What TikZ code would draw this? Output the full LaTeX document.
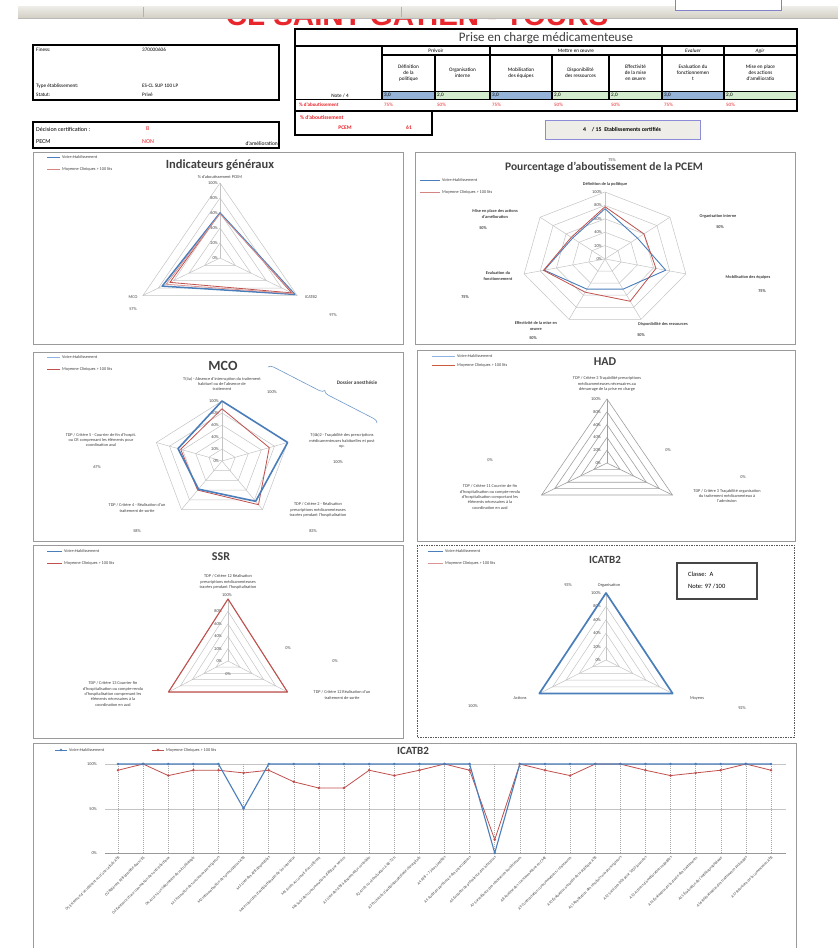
\documentclass[tikz,border=0pt]{standalone}
\usepackage{fontspec}
\setmainfont{Carlito}
\newfontfamily\headfont{Liberation Sans}
\usetikzlibrary{decorations.pathreplacing}

\definecolor{serblue}{HTML}{4A7EBB}
\definecolor{legblue}{HTML}{8DB3E2}
\definecolor{serred}{HTML}{C0504D}
\definecolor{paleblue}{HTML}{95B3D7}
\definecolor{palegreen}{HTML}{D3ECCD}
\definecolor{gridgray}{HTML}{C4C4C4}
\definecolor{framegray}{HTML}{9A9A9A}
\definecolor{txtgray}{HTML}{404040}
\definecolor{titlered}{HTML}{E8262B}
\definecolor{barlight}{HTML}{EEEDE8}
\definecolor{bardark}{HTML}{D2CFC4}

% radar grid: cx, cy, rx, ry, number of axes, style
\newcommand{\rdgrid}[6]{%
  \pgfmathtruncatemacro\rdlast{#5-1}%
  \foreach \L in {0.2,0.4,0.6,0.8,1}{%
    \draw[#6] ({#1},{#2-#4*\L}) \foreach \k in {1,...,\rdlast}{ -- ({#1+#3*\L*cos(90-360*\k/#5)},{#2-#4*\L*sin(90-360*\k/#5)})} -- cycle;
  }%
  \foreach \k in {0,...,\rdlast}{\draw[#6] ({#1},{#2}) -- ({#1+#3*cos(90-360*\k/#5)},{#2-#4*sin(90-360*\k/#5)});}%
}
% radar series: [style] cx, cy, rx, ry, number of axes, values
\newcommand{\rdseries}[7][]{%
  \pgfmathtruncatemacro\rdlast{#6-1}%
  \foreach \v [count=\k from 0] in {#7}{\coordinate (rdp\k) at ({#2+#4*\v*cos(90-360*\k/#6)},{#3-#5*\v*sin(90-360*\k/#6)});}%
  \draw[#1] (rdp0) \foreach \k in {1,...,\rdlast}{ -- (rdp\k)} -- cycle;
}
% radar scale labels: [levels] x, cy, ry
\newcommand{\rdlevels}[4][100/1,80/0.8,60/0.6,40/0.4,20/0.2,0/0]{%
  \foreach \p/\L in {#1}{\node[tiny,anchor=east] at ({#2},{#3-#4*\L}) {\p\%};}%
}

\begin{document}
\begin{tikzpicture}[x=1pt,y=-1pt,
  fsz/.style 2 args={font=\fontsize{#1}{#2}\selectfont},
  tiny/.style={fsz={4.3}{5.4}, text=txtgray, inner sep=0, align=center},
  tinyb/.style={tiny, font=\fontsize{4.3}{5.4}\selectfont\bfseries},
  axlab/.style={fsz={3.9}{4.5}, text=txtgray, inner sep=0},
  legtxt/.style={fsz={4.3}{5}, text=txtgray, inner sep=0, anchor=west},
  cell/.style={fsz={5.2}{6.2}, text=black, inner sep=0, align=center},
  charttitle/.style={font=\bfseries\fontsize{#1}{#1}\selectfont, text=txtgray, inner sep=0},
  panel/.style={draw=framegray, line width=0.8pt},
  gridl/.style={draw=gridgray, line width=0.5pt},
  hadgrid/.style={draw=gray!75, line width=0.6pt},
  blueser/.style={draw=serblue, line width=1.5pt, line join=round},
  redser/.style={draw=serred, line width=0.8pt, line join=round},
  thickrule/.style={line width=1.7pt},
  medrule/.style={line width=1.2pt},
  redtxt/.style={text=titlered, inner sep=0}]

\useasboundingbox (0,0) rectangle (838,948);
\fill[white] (0,0) rectangle (838,948);

% ---------- page title under the toolbar ----------
\node[anchor=base, text=titlered, font=\headfont\bfseries\fontsize{29.5}{29.5}\selectfont, inner sep=0] (pagetitle) at (417,25.5) {CL SAINT GATIEN - TOURS};
\fill[white] (0,0) rectangle (838,6);
\fill[top color=barlight, bottom color=bardark] (18,6) rectangle (838,18);
\draw[gray!55] (18,18) -- (838,18);
\draw[gray!60] (143,7) -- (143,17) (401,7) -- (401,17);
\draw[fill=white, draw=gray!60!blue!70] (675,-1) rectangle (781,10);

% ---------- identity boxes ----------
\draw[line width=1.5pt] (33,45) rectangle (279,100);
\node[cell, anchor=west] (finess) at (36,50) {Finess:};
\node[cell, anchor=west] (finessv) at (142,50) {370000606};
\node[cell, anchor=west] (typeet) at (36,86) {Type établissement:};
\node[cell, anchor=west] (typeetv) at (142,86) {ES-CL SUP 100 LP};
\node[cell, anchor=west] (statut) at (36,95) {Statut:};
\node[cell, anchor=west] (statutv) at (142,95) {Privé};

\draw[line width=1.5pt] (33,122) rectangle (279,148);
\node[cell, anchor=west, fsz={6}{7}] (decis) at (36,129) {Décision certification :};
\node[redtxt, anchor=west, fsz={6}{7}] (decisv) at (146,129) {B};
\node[cell, anchor=west, fsz={6}{7}] (pecm) at (36,142) {PECM};
\node[redtxt, anchor=west, fsz={6}{7}] (pecmv) at (142,142) {NON};
\node[cell, anchor=east, fsz={5.5}{6.5}] (amel) at (278,144) {d'amélioration};

% ---------- PECM score table ----------
\foreach \xa/\xb/\cc/\n/\p in {382/435/paleblue/3/75, 435/490/palegreen/2/50, 490/552/paleblue/3/75, 552/609/palegreen/2/50, 609/662/palegreen/2/50, 662/724/paleblue/3/75, 724/797/palegreen/2/50}{
  \fill[\cc] (\xa+0.6,91.6) rectangle (\xb-0.6,98.6);
  \node[cell, anchor=west] at (\xa+2,95.2) {\n,0};
  \node[redtxt, anchor=west, fsz={5}{6}] at (\xa+2,104.8) {\p\%};
}
\draw[thickrule] (295,29) rectangle (797,111);
\draw[thickrule] (295,46) -- (797,46);
\draw[medrule] (382,55) -- (797,55);
\draw[medrule] (382,46) -- (382,99) (490,46) -- (490,99) (662,46) -- (662,99) (724,46) -- (724,99);
\draw[medrule] (435,55) -- (435,99) (552,55) -- (552,99) (609,55) -- (609,99);
\draw[line width=0.9pt] (382,91) -- (797,91);
\draw[line width=0.9pt] (295,99.3) -- (797,99.3);
\node[fsz={13}{13}, text=txtgray, inner sep=0] (tabtitle) at (546,38) {Prise en charge médicamenteuse};
\node[cell] (gprev) at (436,51) {Prévoir};
\node[cell] (gmet) at (576,51) {Mettre en œuvre};
\node[cell] (geval) at (693,51) {\itshape Evaluer};
\node[cell] (gagir) at (760,51) {\itshape Agir};
\node[cell] (h1) at (408.5,73) {Définition\\de la\\politique};
\node[cell] (h2) at (462.5,73) {Organisation\\interne};
\node[cell] (h3) at (521,73) {Mobilisation\\des équipes};
\node[cell] (h4) at (580.5,73) {Disponibilité\\des ressources};
\node[cell] (h5) at (635.5,73) {Effectivité\\de la mise\\en œuvre};
\node[cell] (h6) at (693,73) {Evaluation du\\fonctionnemen\\t};
\node[cell] (h7) at (760.5,73) {Mise en place\\des actions\\d'amélioratio};
\node[cell] (note) at (340,95.5) {Note / 4};
\node[redtxt, anchor=west, fsz={5}{6}] (pctlab) at (299,104.8) {\bfseries\% d'aboutissement};

\draw[thickrule] (295,111) rectangle (432,135);
\node[redtxt, anchor=west, fsz={5.5}{6.5}] (pcemlab) at (300,117.5) {\bfseries\% d'aboutissement};
\node[redtxt, fsz={5.5}{6.5}] (pcemlab2) at (345,128) {\bfseries PCEM};
\node[redtxt, fsz={5.5}{6.5}] (pcemval) at (409,128) {\bfseries 61};

\draw[fill=barlight, draw=gray!50!blue!60, line width=0.9pt] (545,120) rectangle (700,139);
\node[cell, fsz={5.8}{6.8}] (certif) at (622,129.5) {\bfseries 4\quad/ 15\enspace Etablissements certifiés};

% ---------- panel A: indicateurs generaux ----------
\draw[panel] (33,152) rectangle (403,344);
\draw[serblue, line width=0.7pt] (47,157) -- (60,157);
\node[legtxt] (la1) at (62,157) {Votre établissement};
\draw[serred!70, line width=0.7pt] (47,169) -- (60,169);
\node[legtxt] (la2) at (62,169) {Moyenne Cliniques > 100 lits};
\rdgrid{220}{258}{89}{75}{3}{gridl}
\rdlevels{218}{258}{75}
\rdseries[redser]{220}{258}{89}{75}{3}{0.6,0.93,0.65}
\rdseries[blueser]{220}{258}{89}{75}{3}{0.6,0.97,0.75}
\rdseries[redser, draw=serred!60]{220}{258}{89}{75}{3}{0.59,0.95,0.7}
\node[charttitle=12.5] (ta) at (220,165) {Indicateurs généraux};
\node[tiny] (aax1) at (220,177) {\% d'aboutissement PCEM};
\node[tiny] (aax2) at (311,297) {ICATB2};
\node[tiny] (aax3) at (133,297) {MCO};
\node[tiny] (aval2) at (333,315) {97\%};
\node[tiny] (aval3) at (133,309) {57\%};

% ---------- panel B: PCEM ----------
\draw[panel] (415,152) rectangle (795,344);
\node[tiny] (bv0) at (612,160) {75\%};
\node[charttitle=11.5] (tb) at (604,167) {Pourcentage d'aboutissement de la PCEM};
\draw[serblue, line width=0.7pt] (420,180) -- (440,180);
\node[legtxt] (lb1) at (442,180) {Votre établissement};
\draw[serred!70, line width=0.7pt] (420,192) -- (440,192);
\node[legtxt] (lb2) at (442,192) {Moyenne Cliniques > 100 lits};
\rdgrid{605}{259}{83}{67}{7}{gridl}
\rdlevels{602}{259}{67}
\rdseries[blueser, line width=0.9pt]{605}{259}{83}{67}{7}{0.75,0.5,0.75,0.5,0.5,0.75,0.5}
\rdseries[redser]{605}{259}{83}{67}{7}{0.78,0.6,0.63,0.7,0.55,0.76,0.52}
\node[tinyb] (bax0) at (605,184) {Définition de la politique};
\node[tinyb] (bax1) at (718,216) {Organisation interne};
\node[tinyb] (bv1) at (720,227) {50\%};
\node[tinyb] (bax2) at (748,277) {Mobilisation des équipes};
\node[tinyb] (bv2) at (762,291) {75\%};
\node[tinyb] (bax3) at (663,324) {Disponibilité des ressources};
\node[tinyb] (bv3) at (641,335) {50\%};
\node[tinyb] (bax4) at (536,326) {Effectivité de la mise en\\œuvre};
\node[tinyb] (bv4) at (533,338) {50\%};
\node[tinyb] (bax5) at (498,276) {Evaluation du\\fonctionnement};
\node[tinyb] (bv5) at (465,297) {75\%};
\node[tinyb] (bax6) at (495,214) {Mise en place des actions\\d'amélioration};
\node[tinyb] (bv6) at (483,228) {50\%};

% ---------- panel C: MCO ----------
\draw[panel] (33,352) rectangle (403,541);
\draw[legblue, line width=0.7pt] (47,357) -- (60,357);
\node[legtxt] (lc1) at (62,357) {Votre établissement};
\draw[serred, line width=0.7pt] (47,369) -- (60,369);
\node[legtxt] (lc2) at (62,369) {Moyenne Cliniques > 100 lits};
\node[charttitle=14] (tc) at (223,366) {MCO};
\coordinate (brA) at (268,367);
\coordinate (brB) at (377,423);
\draw[draw=serblue!80, line width=0.6pt, decorate, decoration={brace, amplitude=5pt}] (brA) -- (brB);
\node[text=txtgray, inner sep=0, font=\bfseries\fontsize{5.2}{6}\selectfont] (dossier) at (357,383) {Dossier anesthésie};
\rdgrid{222}{461}{69}{60}{5}{gridl}
\rdlevels{219}{461}{60}
\rdseries[redser]{222}{461}{69}{60}{5}{0.87,0.72,0.9,0.6,0.63}
\rdseries[blueser, line width=1.6pt]{222}{461}{69}{60}{5}{1,1,0.83,0.58,0.67}
\node[tiny] (cax0) at (222,384) {T(4a) - Absence d'interruption du traitement\\habituel ou de l'absence de\\traitement};
\node[tiny] (cv0) at (272,392) {100\%};
\node[tiny] (cax1) at (342,441) {T(4b)2 - Traçabilité des prescriptions\\médicamenteuses habituelles et post\\op.};
\node[tiny] (cv1) at (338,462) {100\%};
\node[tiny] (cax2) at (318,510) {TDP / Critère 2 - Réalisation\\prescriptions médicamenteuses\\tracées pendant l'hospitalisation};
\node[tiny] (cv2) at (313,531) {83\%};
\node[tiny] (cax3) at (137,508) {TDP / Critère 4 - Réalisation d'un\\traitement de sortie};
\node[tiny] (cv3) at (137,531) {58\%};
\node[tiny] (cax4) at (101,440) {TDP / Critère 5 - Courrier de fin d'hospit.\\ou CR comprenant les éléments pour\\coordination aval};
\node[tiny] (cv4) at (97,467) {67\%};

% ---------- panel D: HAD ----------
\draw[panel] (417,350) rectangle (795,541);
\draw[legblue, line width=0.7pt] (432,356) -- (455,356);
\node[legtxt] (ld1) at (457,356) {Votre établissement};
\draw[serred!80!orange, line width=0.7pt] (432,365) -- (455,365);
\node[legtxt] (ld2) at (457,365) {Moyenne Cliniques > 100 lits};
\node[charttitle=12] (td) at (605,362) {HAD};
\rdgrid{607}{463}{75.6}{64}{3}{hadgrid}
\rdlevels{601}{463}{64}
\node[tiny] (dax0) at (607,384) {TDP / Critère 3 Traçabilité prescriptions\\médicamenteuses nécessaires au\\démarrage de la prise en charge};
\node[tiny] (dax1) at (727,496) {TDP / Critère 3 Traçabilité organisation\\du traitement médicamenteux à\\l'admission};
\node[tiny] (dax2) at (490,497) {TDP / Critère 11 Courrier de fin\\d'hospitalisation ou compte-rendu\\d'hospitalisation comportant les\\éléments nécessaires à la\\coordination en aval};
\node[tiny] (dv0) at (668,450) {0\%};
\node[tiny] (dv1) at (743,477) {0\%};
\node[tiny] (dv2) at (490,460) {0\%};

% ---------- panel E: SSR ----------
\draw[panel] (33,545) rectangle (403,738);
\draw[serblue, line width=0.7pt] (47,551) -- (62,551);
\node[legtxt] (le1) at (64,551) {Votre établissement};
\draw[serred, line width=0.9pt] (47,563) -- (62,563);
\node[legtxt] (le2) at (64,563) {Moyenne Cliniques > 100 lits};
\node[charttitle=12] (te) at (221,557) {SSR};
\rdgrid{228}{661}{68.7}{62}{3}{gridl}
\rdlevels[80/0.8,60/0.6,40/0.4,20/0.2,0/0]{222}{661}{62}
\rdseries[redser, line width=1.1pt]{228}{661}{68.7}{62}{3}{1,1,1}
\node[tiny] (eax0) at (228,582) {TDP / Critère 12 Réalisation\\prescriptions médicamenteuses\\tracées pendant l'hospitalisation};
\node[tiny] (ev0) at (227,595) {100\%};
\node[tiny] (eax1) at (342,695) {TDP / Critère 12 Réalisation d'un\\traitement de sortie};
\node[tiny] (eax2) at (113,694) {TDP / Critère 13 Courrier fin\\d'hospitalisation ou compte-rendu\\d'hospitalisation comprenant les\\éléments nécessaires à la\\coordination en aval};
\node[tiny] (ev1) at (288,648) {0\%};
\node[tiny] (ev2) at (335,661) {0\%};
\node[tiny] (ev3) at (228,674) {0\%};

% ---------- panel F: ICATB2 radar ----------
\draw[draw=gray!70!black, line width=0.9pt, dash pattern=on 1.5pt off 1pt] (417,545) rectangle (794,737);
\draw[serblue, line width=0.7pt] (428,551) -- (443,551);
\node[legtxt] (lf1) at (445,551) {Votre établissement};
\draw[serred!60, line width=0.7pt] (428,563) -- (443,563);
\node[legtxt] (lf2) at (445,563) {Moyenne Cliniques > 100 lits};
\node[charttitle=11] (tf) at (605,560) {ICATB2};
\draw[draw=gray!55!black, line width=1.4pt] (677,563) rectangle (757,599);
\node[cell, anchor=west, fsz={6.5}{7.5}] (classe) at (688,574) {Classe:\enspace A};
\node[cell, anchor=west, fsz={6.5}{7.5}] (notef) at (688,586) {Note: 97 /100};
\rdgrid{606}{660}{77}{67}{3}{gridl}
\rdlevels{601}{660}{67}
\rdseries[blueser, line width=1.7pt]{606}{660}{77}{67}{3}{1,1,1}
\node[tiny] (fax0) at (609,585) {Organisation};
\node[tiny] (fv0) at (568,585) {93\%};
\node[tiny] (fax1) at (697,698) {Moyens};
\node[tiny] (fv1) at (742,708) {92\%};
\node[tiny] (fax2) at (520,698) {Actions};
\node[tiny] (fv2) at (473,706) {100\%};

% ---------- panel G: ICATB2 criteria ----------
\draw[panel] (33,743) rectangle (796,960);
\node[charttitle=11] (tg) at (413,751) {ICATB2};
\draw[serblue, line width=0.7pt] (55,750) -- (67,750);
\fill[serblue] (61,750) circle (1.3);
\node[legtxt] (lg1) at (69,750) {Votre établissement};
\draw[serred, line width=0.7pt] (152,750) -- (164,750);
\fill[serred] (158,750) circle (1.3);
\node[legtxt] (lg2) at (166,750) {Moyenne Cliniques > 100 lits};
\draw[gridgray, line width=0.5pt] (105,764) -- (786,764) (105,809) -- (786,809);
\draw[gray!80, line width=0.6pt] (105,853) -- (786,853);
\node[tiny, anchor=east] (y100) at (97,764) {100\%};
\node[tiny, anchor=east] (y50) at (97,809) {50\%};
\node[tiny, anchor=east] (y0) at (97,853) {0\%};
\foreach \i in {0,...,26}{
  \draw[gray!70, line width=0.5pt, dash pattern=on 1pt off 1pt] ({118+25.115*\i},764) -- ({118+25.115*\i},853);
}
\foreach \v [count=\i from 0] in {100,100,100,100,100,50,100,100,100,100,100,100,100,100,100,0,100,100,100,100,100,100,100,100,100,100,100}{
  \coordinate (gb\i) at ({118+25.115*\i},{853-0.89*\v});
}
\foreach \v [count=\i from 0] in {93,100,87,93,93,90,93,80,73,73,93,87,93,100,93,15,100,93,87,100,100,93,87,90,93,100,93}{
  \coordinate (gr\i) at ({118+25.115*\i},{853-0.89*\v});
}
\draw[redser] (gr0) \foreach \i in {1,...,26}{ -- (gr\i)};
\foreach \i in {0,...,26}{\fill[serred] (gr\i) circle (1.4);}
\draw[blueser, line width=1.1pt] (gb0) \foreach \i in {1,...,26}{ -- (gb\i)};
\foreach \i in {0,...,26}{\fill[serblue] (gb\i) circle (1.4);}
\foreach \t [count=\i from 0] in {
  O1 Existence d'un référent ou d'une cellule ATB,
  O2 Référent ATB identifié dans l'ES,
  O3 Existence d'une commission des anti-infectieux,
  O4 Accès à un laboratoire de microbiologie,
  M1 Formation des nouveaux prescripteurs,
  M2 Informatisation des prescriptions ATB,
  M3 Liste des ATB disponibles,
  M4 Protocoles d'antibiothérapie de 1re intention,
  M5 Accès au conseil d'un référent,
  M6 Suivi des consommations d'ATB par service,
  A1 Liste des ATB à dispensation contrôlée,
  A2 Arrêt ou réévaluation à 48-72 h,
  A3 Protocole d'antibioprophylaxie chirurgicale,
  A4 ATB > 7 jours justifiés,
  A5 Audit de pertinence des prescriptions,
  A6 Enquête de prévalence des infections,
  A7 Surveillance des résistances bactériennes,
  A8 Analyse des consommations en CME,
  A9 Confrontation consommations / résistances,
  A10 Évaluation annuelle de la politique ATB,
  A11 Restitution des résultats aux prescripteurs,
  A12 Suivi des DDJ pour 1000 journées,
  A13 Actions d'amélioration engagées,
  A14 Évaluation de la durée des traitements,
  A15 Évaluation de l'antibioprophylaxie,
  A16 Réévaluation des traitements prolongés,
  A17 Réunions de la commission ATB}{
  \node[axlab, anchor=east, rotate=45] (xl\i) at ({118+25.115*\i+1},857) {\t};
}
\end{tikzpicture}
\end{document}
